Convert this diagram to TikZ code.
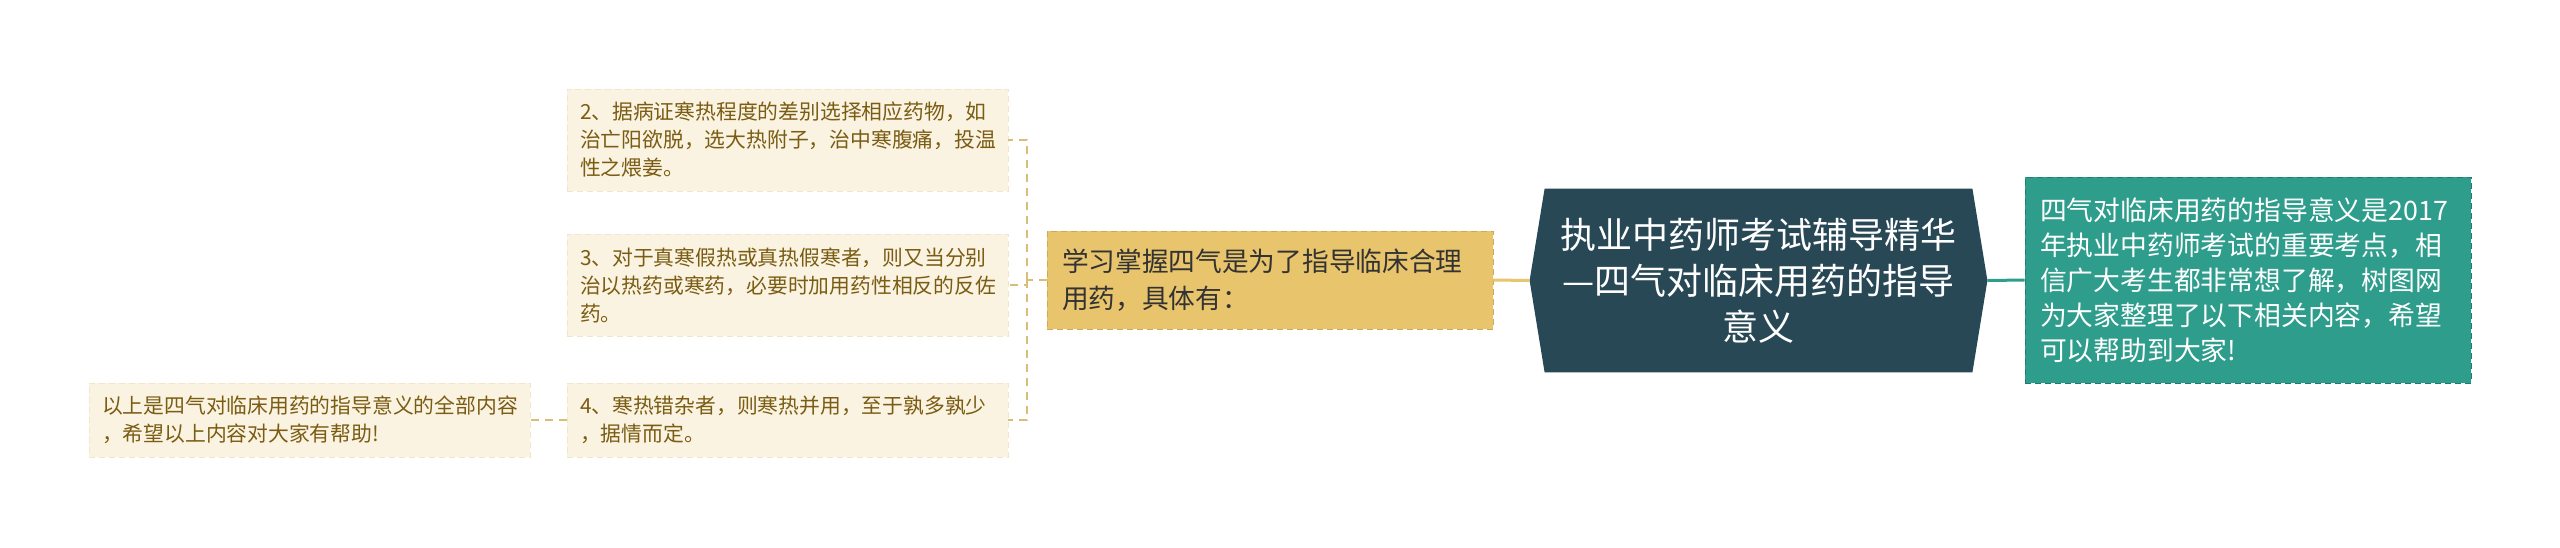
\documentclass[tikz,border=0pt]{standalone}
\usepackage{fontspec}
\newfontfamily\cjk{Noto Sans CJK SC}
\usetikzlibrary{calc,backgrounds}
\definecolor{leafbg}{HTML}{FAF3E2}
\definecolor{leafrim}{HTML}{F1E6CA}
\definecolor{leaftext}{HTML}{7A5C12}
\definecolor{twigcol}{HTML}{D8BE78}
\definecolor{subbg}{HTML}{E8C46C}
\definecolor{subrim}{HTML}{D2A84E}
\definecolor{rootbg}{HTML}{284856}
\definecolor{notebg}{HTML}{2E9D8C}
\definecolor{noterim}{HTML}{1F7D6F}
\tikzset{
	leafbox/.style={
			fill=leafbg, draw=leafrim, dash pattern=on 3pt off 2pt,
			text=leaftext, font=\cjk\fontsize{10.4}{14}\selectfont,
			align=left, text width=207.5pt, inner xsep=6.5pt, inner ysep=0pt,
			minimum height=#1
		},
	subbox/.style={
			fill=subbg, draw=subrim, dash pattern=on 3pt off 2pt,
			text=black!80, font=\cjk\fontsize{13.35}{18.5}\selectfont,
			align=left, text width=208pt, inner xsep=7.5pt, inner ysep=0pt,
			minimum height=49pt
		},
	rootbox/.style={
			draw=none, text=white, font=\cjk\fontsize{18}{23}\selectfont,
			align=center, text width=200pt, inner xsep=6.75pt, inner ysep=0pt,
			minimum height=91.5pt
		},
	notebox/.style={
			fill=notebg, draw=noterim, dash pattern=on 3pt off 2pt,
			text=white, font=\cjk\fontsize{13.4}{17.5}\selectfont,
			align=left, text width=208pt, inner xsep=7.5pt, inner ysep=0pt,
			minimum height=103pt
		},
	twig/.style={draw=twigcol, line width=1pt, dash pattern=on 4pt off 3pt},
	stem/.style={line width=1.5pt}
}

\begin{document}
\begin{tikzpicture}[x=0.5pt, y=-0.5pt]
	\useasboundingbox (0,0) rectangle (2560,547);

	% Main topic
	\node[rootbox] (root) at (1758.5,280.5) {执业中药师考试辅导精华\\—四气对临床用药的指导\\意义};
	\coordinate (rootL) at ($(root.west)+(-15,0)$);
	\coordinate (rootR) at ($(root.east)+(15,0)$);
	\begin{scope}[on background layer]
		\fill[rootbg] (root.north west) -- (root.north east) -- (rootR) -- (root.south east)
		-- (root.south west) -- (rootL) -- cycle;
	\end{scope}

	% Right side
	\node[notebox] (note) at (2248,280) {四气对临床用药的指导意义是2017\\年执业中药师考试的重要考点，相\\信广大考生都非常想了解，树图网\\为大家整理了以下相关内容，希望\\可以帮助到大家!};

	% Left side
	\node[subbox] (sub) at (1270,280) {学习掌握四气是为了指导临床合理\\用药，具体有：};
	\node[leafbox=51pt] (leaf2) at (787.5,140) {2、据病证寒热程度的差别选择相应药物，如\\治亡阳欲脱，选大热附子，治中寒腹痛，投温\\性之煨姜。};
	\node[leafbox=51pt] (leaf3) at (787.5,285) {3、对于真寒假热或真热假寒者，则又当分别\\治以热药或寒药，必要时加用药性相反的反佐\\药。};
	\node[leafbox=37pt] (leaf4) at (787.5,420) {4、寒热错杂者，则寒热并用，至于孰多孰少\\，据情而定。};
	\node[leafbox=37pt] (endnote) at (309.5,420) {以上是四气对临床用药的指导意义的全部内容\\，希望以上内容对大家有帮助!};

	% Connectors
	\draw[stem, subbg] (rootL) -- (sub.east);
	\draw[stem, notebg] (rootR) -- (note.west);
	\coordinate (fork) at (1027,280);
	\draw[twig] (sub.west) -- (fork);
	\draw[twig] (fork) |- (leaf2.east);
	\draw[twig] (fork) |- (leaf3.east);
	\draw[twig] (fork) |- (leaf4.east);
	\draw[twig] (leaf4.west) -- (endnote.east);
\end{tikzpicture}
\end{document}
